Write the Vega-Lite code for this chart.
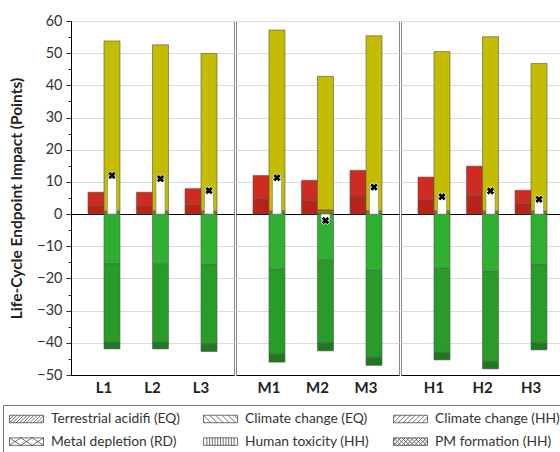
{
  "$schema": "https://vega.github.io/schema/vega-lite/v6.json",
  "padding": {"left": 2, "top": 12, "right": 0, "bottom": 0},
  "background": "white",
  "datasets": {
    "impacts": [
      {"g": "L", "s": "L1", "kind": "bar", "slot": "A", "seg": "r1", "v": 2.6},
      {"g": "L", "s": "L1", "kind": "bar", "slot": "A", "seg": "r2", "v": 4.2},
      {"g": "L", "s": "L1", "kind": "bar", "slot": "B", "seg": "y1", "v": 1.0},
      {"g": "L", "s": "L1", "kind": "bar", "slot": "B", "seg": "y2", "v": 52.8},
      {"g": "L", "s": "L1", "kind": "bar", "slot": "B", "seg": "g1", "v": -15.5},
      {"g": "L", "s": "L1", "kind": "bar", "slot": "B", "seg": "g2", "v": -24.3},
      {"g": "L", "s": "L1", "kind": "bar", "slot": "B", "seg": "g3", "v": -2.1},
      {"g": "L", "s": "L1", "kind": "net", "slot": "B", "v": 12.0},
      {"g": "L", "s": "L2", "kind": "bar", "slot": "A", "seg": "r1", "v": 2.6},
      {"g": "L", "s": "L2", "kind": "bar", "slot": "A", "seg": "r2", "v": 4.2},
      {"g": "L", "s": "L2", "kind": "bar", "slot": "B", "seg": "y1", "v": 1.0},
      {"g": "L", "s": "L2", "kind": "bar", "slot": "B", "seg": "y2", "v": 51.6},
      {"g": "L", "s": "L2", "kind": "bar", "slot": "B", "seg": "g1", "v": -15.6},
      {"g": "L", "s": "L2", "kind": "bar", "slot": "B", "seg": "g2", "v": -24.2},
      {"g": "L", "s": "L2", "kind": "bar", "slot": "B", "seg": "g3", "v": -2.1},
      {"g": "L", "s": "L2", "kind": "net", "slot": "B", "v": 11.0},
      {"g": "L", "s": "L3", "kind": "bar", "slot": "A", "seg": "r1", "v": 3.0},
      {"g": "L", "s": "L3", "kind": "bar", "slot": "A", "seg": "r2", "v": 4.9},
      {"g": "L", "s": "L3", "kind": "bar", "slot": "B", "seg": "y1", "v": 1.0},
      {"g": "L", "s": "L3", "kind": "bar", "slot": "B", "seg": "y2", "v": 48.9},
      {"g": "L", "s": "L3", "kind": "bar", "slot": "B", "seg": "g1", "v": -15.8},
      {"g": "L", "s": "L3", "kind": "bar", "slot": "B", "seg": "g2", "v": -24.6},
      {"g": "L", "s": "L3", "kind": "bar", "slot": "B", "seg": "g3", "v": -2.3},
      {"g": "L", "s": "L3", "kind": "net", "slot": "B", "v": 7.3},
      {"g": "M", "s": "M1", "kind": "bar", "slot": "A", "seg": "r1", "v": 4.8},
      {"g": "M", "s": "M1", "kind": "bar", "slot": "A", "seg": "r2", "v": 7.2},
      {"g": "M", "s": "M1", "kind": "bar", "slot": "B", "seg": "y1", "v": 1.0},
      {"g": "M", "s": "M1", "kind": "bar", "slot": "B", "seg": "y2", "v": 56.2},
      {"g": "M", "s": "M1", "kind": "bar", "slot": "B", "seg": "g1", "v": -17.2},
      {"g": "M", "s": "M1", "kind": "bar", "slot": "B", "seg": "g2", "v": -26.3},
      {"g": "M", "s": "M1", "kind": "bar", "slot": "B", "seg": "g3", "v": -2.5},
      {"g": "M", "s": "M1", "kind": "net", "slot": "B", "v": 11.3},
      {"g": "M", "s": "M2", "kind": "bar", "slot": "A", "seg": "r1", "v": 4.3},
      {"g": "M", "s": "M2", "kind": "bar", "slot": "A", "seg": "r2", "v": 6.2},
      {"g": "M", "s": "M2", "kind": "bar", "slot": "B", "seg": "y1", "v": 1.3},
      {"g": "M", "s": "M2", "kind": "bar", "slot": "B", "seg": "y2", "v": 41.5},
      {"g": "M", "s": "M2", "kind": "bar", "slot": "B", "seg": "g1", "v": -14.4},
      {"g": "M", "s": "M2", "kind": "bar", "slot": "B", "seg": "g2", "v": -25.7},
      {"g": "M", "s": "M2", "kind": "bar", "slot": "B", "seg": "g3", "v": -2.4},
      {"g": "M", "s": "M2", "kind": "net", "slot": "B", "v": -2.0},
      {"g": "M", "s": "M3", "kind": "bar", "slot": "A", "seg": "r1", "v": 5.6},
      {"g": "M", "s": "M3", "kind": "bar", "slot": "A", "seg": "r2", "v": 8.0},
      {"g": "M", "s": "M3", "kind": "bar", "slot": "B", "seg": "y1", "v": 1.0},
      {"g": "M", "s": "M3", "kind": "bar", "slot": "B", "seg": "y2", "v": 54.4},
      {"g": "M", "s": "M3", "kind": "bar", "slot": "B", "seg": "g1", "v": -17.5},
      {"g": "M", "s": "M3", "kind": "bar", "slot": "B", "seg": "g2", "v": -27.0},
      {"g": "M", "s": "M3", "kind": "bar", "slot": "B", "seg": "g3", "v": -2.5},
      {"g": "M", "s": "M3", "kind": "net", "slot": "B", "v": 8.4},
      {"g": "H", "s": "H1", "kind": "bar", "slot": "A", "seg": "r1", "v": 4.6},
      {"g": "H", "s": "H1", "kind": "bar", "slot": "A", "seg": "r2", "v": 6.9},
      {"g": "H", "s": "H1", "kind": "bar", "slot": "B", "seg": "y1", "v": 1.0},
      {"g": "H", "s": "H1", "kind": "bar", "slot": "B", "seg": "y2", "v": 49.5},
      {"g": "H", "s": "H1", "kind": "bar", "slot": "B", "seg": "g1", "v": -16.9},
      {"g": "H", "s": "H1", "kind": "bar", "slot": "B", "seg": "g2", "v": -26.1},
      {"g": "H", "s": "H1", "kind": "bar", "slot": "B", "seg": "g3", "v": -2.3},
      {"g": "H", "s": "H1", "kind": "net", "slot": "B", "v": 5.4},
      {"g": "H", "s": "H2", "kind": "bar", "slot": "A", "seg": "r1", "v": 5.8},
      {"g": "H", "s": "H2", "kind": "bar", "slot": "A", "seg": "r2", "v": 9.1},
      {"g": "H", "s": "H2", "kind": "bar", "slot": "B", "seg": "y1", "v": 1.0},
      {"g": "H", "s": "H2", "kind": "bar", "slot": "B", "seg": "y2", "v": 54.1},
      {"g": "H", "s": "H2", "kind": "bar", "slot": "B", "seg": "g1", "v": -17.9},
      {"g": "H", "s": "H2", "kind": "bar", "slot": "B", "seg": "g2", "v": -27.9},
      {"g": "H", "s": "H2", "kind": "bar", "slot": "B", "seg": "g3", "v": -2.3},
      {"g": "H", "s": "H2", "kind": "net", "slot": "B", "v": 7.2},
      {"g": "H", "s": "H3", "kind": "bar", "slot": "A", "seg": "r1", "v": 3.2},
      {"g": "H", "s": "H3", "kind": "bar", "slot": "A", "seg": "r2", "v": 4.2},
      {"g": "H", "s": "H3", "kind": "bar", "slot": "B", "seg": "y1", "v": 1.0},
      {"g": "H", "s": "H3", "kind": "bar", "slot": "B", "seg": "y2", "v": 45.8},
      {"g": "H", "s": "H3", "kind": "bar", "slot": "B", "seg": "g1", "v": -15.8},
      {"g": "H", "s": "H3", "kind": "bar", "slot": "B", "seg": "g2", "v": -24.3},
      {"g": "H", "s": "H3", "kind": "bar", "slot": "B", "seg": "g3", "v": -2.1},
      {"g": "H", "s": "H3", "kind": "net", "slot": "B", "v": 4.6}
    ],
    "keys": [
      {"s": "L1", "slot": "A", "cat": "Terrestrial acidifi (EQ)", "v": 0},
      {"s": "L1", "slot": "A", "cat": "Climate change (EQ)", "v": 0},
      {"s": "L1", "slot": "A", "cat": "Climate change (HH)", "v": 0},
      {"s": "L1", "slot": "A", "cat": "Metal depletion (RD)", "v": 0},
      {"s": "L1", "slot": "A", "cat": "Human toxicity (HH)", "v": 0},
      {"s": "L1", "slot": "A", "cat": "PM formation (HH)", "v": 0}
    ]
  },
  "spacing": 0,
  "hconcat": [
    {
      "width": 163,
      "height": 354,
      "encoding": {
        "x": {"field": "s", "type": "nominal", "scale": {"paddingInner": 0, "paddingOuter": 0.18}, "axis": {"title": null, "ticks": false, "labelAngle": 0, "labelFontWeight": "bold", "labelFontSize": 15, "labelColor": "#222", "labelPadding": 5, "domainColor": "black"}},
        "xOffset": {"field": "slot", "type": "nominal", "scale": {"paddingInner": 0, "paddingOuter": 0.516}},
        "y": {
          "field": "v", "type": "quantitative", "scale": {"domain": [-50, 60], "nice": false},
          "axis": {
            "title": "Life-Cycle Endpoint Impact (Points)",
            "titleFontSize": 15.5, "titleFontWeight": "bold", "titleColor": "#222", "titlePadding": 12,
            "values": [-50, -45, -40, -35, -30, -25, -20, -15, -10, -5, 0, 5, 10, 15, 20, 25, 30, 35, 40, 45, 50, 55, 60],
            "labelExpr": "datum.value % 10 === 0 ? datum.label : ''",
            "labelOverlap": false, "labelFontSize": 14.5, "labelColor": "#333", "labelPadding": 4,
            "domainColor": "black", "tickColor": "#333",
            "tickSize": {"condition": {"test": "datum.value % 10 === 0", "value": 5}, "value": 3},
            "gridColor": {"condition": {"test": "datum.value === 0", "value": "black"}, "value": "#dcdcdc"},
            "gridOpacity": {"condition": {"test": "datum.value % 10 === 0", "value": 1}, "value": 0}
          }
        }
      },
      "layer": [
        {
          "data": {"name": "impacts"},
          "transform": [{"filter": "datum.g === 'L' && datum.kind === 'bar'"}],
          "mark": {"type": "bar", "stroke": "#555", "strokeWidth": 0.6},
          "encoding": {
            "color": {"field": "seg", "type": "nominal", "scale": {"domain": ["r1", "r2", "y1", "y2", "g1", "g2", "g3"], "range": ["#b9231a", "#d02b20", "#85800a", "#c4bc00", "#30b030", "#289c28", "#1d7a1d"]}, "legend": null},
            "order": {"field": "seg"}
          }
        },
        {
          "data": {"name": "impacts"},
          "transform": [{"filter": "datum.g === 'L' && datum.kind === 'net'"}],
          "mark": {"type": "bar", "color": "white", "stroke": "#777", "strokeWidth": 0.5, "width": 9}
        },
        {
          "data": {"name": "impacts"},
          "transform": [{"filter": "datum.g === 'L' && datum.kind === 'net'"}],
          "mark": {"type": "point", "shape": "cross", "angle": 45, "size": 70, "filled": true, "fill": "black", "stroke": "white", "strokeWidth": 0.8, "opacity": 1}
        },
        {
          "data": {"name": "keys"},
          "mark": {"type": "point", "filled": false, "color": "#333", "opacity": 0, "strokeWidth": 0.7},
          "encoding": {
            "shape": {
              "field": "cat", "type": "nominal",
              "scale": {
                "domain": ["Terrestrial acidifi (EQ)", "Climate change (EQ)", "Climate change (HH)", "Metal depletion (RD)", "Human toxicity (HH)", "PM formation (HH)"],
                "range": [
                  "M-1,-0.22H1V0.22H-1Z M-1,0.02L-0.76,-0.22 M-1,0.22L-0.56,-0.22 M-0.8,0.22L-0.36,-0.22 M-0.6,0.22L-0.16,-0.22 M-0.4,0.22L0.04,-0.22 M-0.2,0.22L0.24,-0.22 M0,0.22L0.44,-0.22 M0.2,0.22L0.64,-0.22 M0.4,0.22L0.84,-0.22 M0.6,0.22L1,-0.18 M0.8,0.22L1,0.02",
                  "M-1,-0.22H1V0.22H-1Z M-1,0.14L-0.92,0.22 M-1,-0.22L-0.56,0.22 M-0.64,-0.22L-0.2,0.22 M-0.28,-0.22L0.16,0.22 M0.08,-0.22L0.52,0.22 M0.44,-0.22L0.88,0.22 M0.8,-0.22L1,-0.02",
                  "M-1,-0.22H1V0.22H-1Z M-1,-0.06L-0.84,-0.22 M-1,0.22L-0.56,-0.22 M-0.72,0.22L-0.28,-0.22 M-0.44,0.22L0,-0.22 M-0.16,0.22L0.28,-0.22 M0.12,0.22L0.56,-0.22 M0.4,0.22L0.84,-0.22 M0.68,0.22L1,-0.1",
                  "M-1,-0.22H1V0.22H-1Z M-1,-0.22L-0.333,0.22 M-1,0.22L-0.333,-0.22 M-0.333,-0.22L0.333,0.22 M-0.333,0.22L0.333,-0.22 M0.333,-0.22L1,0.22 M0.333,0.22L1,-0.22",
                  "M-1,-0.22H1V0.22H-1Z M-0.8,-0.22V0.22 M-0.64,-0.22V0.22 M-0.48,-0.22V0.22 M-0.32,-0.22V0.22 M-0.16,-0.22V0.22 M0,-0.22V0.22 M0.16,-0.22V0.22 M0.32,-0.22V0.22 M0.48,-0.22V0.22 M0.64,-0.22V0.22 M0.8,-0.22V0.22",
                  "M-1,-0.22H1V0.22H-1Z M-1,-0.03L-0.81,-0.22 M-1,0.22L-0.56,-0.22 M-0.75,0.22L-0.31,-0.22 M-0.5,0.22L-0.06,-0.22 M-0.25,0.22L0.19,-0.22 M0,0.22L0.44,-0.22 M0.25,0.22L0.69,-0.22 M0.5,0.22L0.94,-0.22 M0.75,0.22L1,-0.03 M-1,0.03L-0.81,0.22 M-1,-0.22L-0.56,0.22 M-0.75,-0.22L-0.31,0.22 M-0.5,-0.22L-0.06,0.22 M-0.25,-0.22L0.19,0.22 M0,-0.22L0.44,0.22 M0.25,-0.22L0.69,0.22 M0.5,-0.22L0.94,0.22 M0.75,-0.22L1,0.03"
                ]
              },
              "legend": {
                "title": null, "orient": "none", "legendX": -68, "legendY": 384,
                "columns": 3, "direction": "horizontal", "gridAlign": "each",
                "symbolSize": 1156, "symbolStrokeWidth": 0.7, "symbolStrokeColor": "#333", "symbolFillColor": "white", "symbolOpacity": 1,
                "clipHeight": 16, "rowPadding": 6.6, "columnPadding": 23,
                "labelFontSize": 13.8, "labelColor": "#333", "labelOffset": 7,
                "padding": 6, "strokeColor": "#777", "fillColor": "white"
              }
            }
          }
        }
      ]
    },
    {
      "width": 163,
      "height": 354,
      "encoding": {
        "x": {"field": "s", "type": "nominal", "scale": {"paddingInner": 0, "paddingOuter": 0.18}, "axis": {"title": null, "ticks": false, "labelAngle": 0, "labelFontWeight": "bold", "labelFontSize": 15, "labelColor": "#222", "labelPadding": 5, "domainColor": "black"}},
        "xOffset": {"field": "slot", "type": "nominal", "scale": {"paddingInner": 0, "paddingOuter": 0.516}},
        "y": {
          "field": "v", "type": "quantitative", "scale": {"domain": [-50, 60], "nice": false},
          "axis": {"title": null, "labels": false, "ticks": false, "domain": false, "values": [-50, -40, -30, -20, -10, 0, 10, 20, 30, 40, 50, 60],
            "gridColor": {"condition": {"test": "datum.value === 0", "value": "black"}, "value": "#dcdcdc"}}
        }
      },
      "layer": [
        {
          "data": {"name": "impacts"},
          "transform": [{"filter": "datum.g === 'M' && datum.kind === 'bar'"}],
          "mark": {"type": "bar", "stroke": "#555", "strokeWidth": 0.6},
          "encoding": {
            "color": {"field": "seg", "type": "nominal", "scale": {"domain": ["r1", "r2", "y1", "y2", "g1", "g2", "g3"], "range": ["#b9231a", "#d02b20", "#85800a", "#c4bc00", "#30b030", "#289c28", "#1d7a1d"]}, "legend": null},
            "order": {"field": "seg"}
          }
        },
        {
          "data": {"name": "impacts"},
          "transform": [{"filter": "datum.g === 'M' && datum.kind === 'net'"}],
          "mark": {"type": "bar", "color": "white", "stroke": "#777", "strokeWidth": 0.5, "width": 9}
        },
        {
          "data": {"name": "impacts"},
          "transform": [{"filter": "datum.g === 'M' && datum.kind === 'net'"}],
          "mark": {"type": "point", "shape": "cross", "angle": 45, "size": 70, "filled": true, "fill": "black", "stroke": "white", "strokeWidth": 0.8, "opacity": 1}
        }
      ]
    },
    {
      "width": 163,
      "height": 354,
      "encoding": {
        "x": {"field": "s", "type": "nominal", "scale": {"paddingInner": 0, "paddingOuter": 0.18}, "axis": {"title": null, "ticks": false, "labelAngle": 0, "labelFontWeight": "bold", "labelFontSize": 15, "labelColor": "#222", "labelPadding": 5, "domainColor": "black"}},
        "xOffset": {"field": "slot", "type": "nominal", "scale": {"paddingInner": 0, "paddingOuter": 0.516}},
        "y": {
          "field": "v", "type": "quantitative", "scale": {"domain": [-50, 60], "nice": false},
          "axis": {"title": null, "labels": false, "ticks": false, "domain": false, "values": [-50, -40, -30, -20, -10, 0, 10, 20, 30, 40, 50, 60],
            "gridColor": {"condition": {"test": "datum.value === 0", "value": "black"}, "value": "#dcdcdc"}}
        }
      },
      "layer": [
        {
          "data": {"name": "impacts"},
          "transform": [{"filter": "datum.g === 'H' && datum.kind === 'bar'"}],
          "mark": {"type": "bar", "stroke": "#555", "strokeWidth": 0.6},
          "encoding": {
            "color": {"field": "seg", "type": "nominal", "scale": {"domain": ["r1", "r2", "y1", "y2", "g1", "g2", "g3"], "range": ["#b9231a", "#d02b20", "#85800a", "#c4bc00", "#30b030", "#289c28", "#1d7a1d"]}, "legend": null},
            "order": {"field": "seg"}
          }
        },
        {
          "data": {"name": "impacts"},
          "transform": [{"filter": "datum.g === 'H' && datum.kind === 'net'"}],
          "mark": {"type": "bar", "color": "white", "stroke": "#777", "strokeWidth": 0.5, "width": 9}
        },
        {
          "data": {"name": "impacts"},
          "transform": [{"filter": "datum.g === 'H' && datum.kind === 'net'"}],
          "mark": {"type": "point", "shape": "cross", "angle": 45, "size": 70, "filled": true, "fill": "black", "stroke": "white", "strokeWidth": 0.8, "opacity": 1}
        }
      ]
    }
  ],
  "config": {
    "view": {"stroke": "#888", "strokeWidth": 1},
    "font": "Lato",
    "axis": {"labelOverlap": false}
  }
}
